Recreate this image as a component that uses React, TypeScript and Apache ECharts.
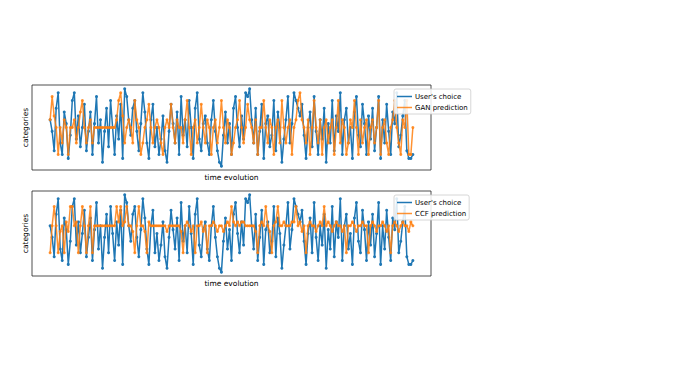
import React, { useEffect, useRef } from "react";
import * as echarts from "echarts";

const userChoice: number[] = [
  12, 9, 4, 15, 19, 6, 3, 14, 11, 2, 8, 17, 19, 7, 13, 5, 10, 16, 4, 9,
  14, 3, 11, 18, 6, 12, 1, 9, 15, 5, 17, 10, 3, 13, 7, 16, 2, 20, 18, 12,
  8, 15, 17, 9, 4, 11, 19, 14, 6, 2, 12, 16, 5, 10, 3, 7, 13, 4, 1, 9,
  16, 11, 6, 14, 3, 18, 8, 12, 5, 17, 10, 2, 15, 19, 7, 4, 11, 13, 6, 3,
  12, 17, 9, 4, 1, 0, 8, 14, 6, 11, 3, 15, 18, 10, 5, 13, 7, 19, 18, 20,
  12, 6, 15, 3, 9, 16, 2, 11, 13, 5, 8, 17, 4, 14, 10, 1, 7, 12, 18, 6,
  11, 19, 17, 15, 13, 16, 8, 2, 10, 14, 5, 18, 9, 3, 12, 7, 15, 1, 11, 6,
  17, 4, 13, 9, 19, 3, 12, 15, 6, 10, 2, 14, 18, 8, 5, 16, 11, 3, 13, 7,
  15, 4, 10, 18, 2, 12, 6, 16, 9, 3, 14, 11, 19, 5, 8, 13, 17, 4, 2, 2, 3,
];

const ganPrediction: number[] = [
  12, 18, 13, 10, 3, 10, 6, 12, 10, 3, 10, 10, 12, 6, 10, 14, 17, 10, 6, 10,
  12, 6, 10, 10, 10, 10, 10, 10, 10, 10, 10, 10, 10, 12, 17, 19, 13, 6, 10, 12,
  10, 6, 17, 12, 10, 3, 6, 10, 12, 16, 10, 6, 10, 12, 10, 6, 3, 10, 12, 10,
  16, 10, 6, 12, 10, 10, 6, 12, 17, 10, 3, 10, 12, 6, 10, 16, 10, 6, 12, 10,
  3, 10, 12, 6, 10, 17, 10, 6, 12, 10, 3, 6, 10, 12, 17, 10, 6, 10, 16, 12,
  10, 6, 12, 3, 10, 10, 17, 10, 6, 12, 10, 3, 10, 12, 6, 17, 10, 6, 10, 12,
  3, 10, 12, 17, 19, 12, 10, 6, 12, 3, 10, 17, 10, 6, 12, 3, 10, 12, 6, 10,
  12, 3, 10, 17, 6, 12, 10, 3, 6, 12, 10, 17, 10, 3, 12, 6, 10, 12, 3, 10,
  12, 6, 10, 17, 3, 10, 12, 6, 3, 10, 12, 17, 10, 6, 3, 12, 10, 17, 3, 3, 10,
];

const ccfPrediction: number[] = [
  5, 12, 17, 12, 5, 10.5, 12, 5, 13, 10.5, 17, 17, 12, 13, 5, 12, 17, 12, 5, 12,
  17, 5, 12, 12, 12, 12, 12, 12, 12, 12, 12, 12, 12, 17, 13, 17, 12, 13, 17, 12,
  12, 10.5, 5, 12, 17, 12, 12, 10.5, 5, 13, 12, 12, 12, 12, 12, 12, 12, 12, 10.5, 12,
  12, 12, 12, 12, 12, 10.5, 5, 12, 13, 12, 10.5, 12, 5, 12, 12, 13, 10.5, 12, 5, 12,
  12, 13, 12, 10.5, 12, 12, 10.5, 12, 13, 12, 17, 13, 12, 13, 12, 13, 13, 12, 12, 12,
  12, 12, 10.5, 5, 12, 13, 12, 17, 12, 10.5, 5, 12, 13, 17, 12, 12, 13, 12, 12, 12,
  13, 13, 17, 12, 13, 10.5, 12, 5, 12, 13, 12, 12, 10.5, 12, 13, 12, 17, 12, 13, 12,
  10.5, 12, 13, 12, 12, 10.5, 12, 5, 12, 12, 13, 12, 10.5, 12, 12, 13, 12, 12, 5, 12,
  13, 12, 10.5, 12, 12, 13, 12, 10.5, 12, 5, 12, 13, 12, 10.5, 12, 13, 12, 12, 10.5, 13, 12,
];

const axisTitles = { x: "time evolution", y: "categories" };
const seriesNames = ["User's choice", "GAN prediction", "CCF prediction"];

const BLUE = "#1f77b4";
const ORANGE = "#ff7f0e";
const FONT = "DejaVu Sans";

export default function App() {
  const ref = useRef<HTMLDivElement>(null);
  useEffect(() => {
    if (!ref.current) return;
    const chart = echarts.init(ref.current, null, { renderer: "svg" });
    const toXY = (arr: number[]) => arr.map((v, i) => [i, v]);
    const grids = [
      { left: 32, top: 85, width: 399, height: 85 },
      { left: 32, top: 191, width: 399, height: 85 },
    ].map((g) => ({
      ...g,
      show: true,
      borderColor: "#222",
      borderWidth: 0.8,
      backgroundColor: "transparent",
    }));
    const n = userChoice.length;
    const xAxes = [0, 1].map((i) => ({
      type: "value",
      gridIndex: i,
      min: -9,
      max: n - 1 + 9,
      axisLine: { show: false },
      axisTick: { show: false },
      axisLabel: { show: false },
      splitLine: { show: false },
      name: axisTitles.x,
      nameLocation: "middle",
      nameGap: 3,
      nameTextStyle: { fontFamily: FONT, fontSize: 7.5, color: "#000", verticalAlign: "top" },
    }));
    const yAxes = [0, 1].map((i) => ({
      type: "value",
      gridIndex: i,
      min: -1,
      max: 21,
      axisLine: { show: false },
      axisTick: { show: false },
      axisLabel: { show: false },
      splitLine: { show: false },
      name: axisTitles.y,
      nameLocation: "middle",
      nameGap: 3,
      nameRotate: 90,
      nameTextStyle: { fontFamily: FONT, fontSize: 7.5, color: "#000", verticalAlign: "bottom" },
    }));
    const mk = (name: string, data: number[], color: string, idx: number, z: number, opacity: number) => ({
      type: "line",
      name,
      xAxisIndex: idx,
      yAxisIndex: idx,
      data: toXY(data),
      symbol: "circle",
      symbolSize: 3,
      showSymbol: true,
      z,
      lineStyle: { color, width: 1.5, opacity },
      itemStyle: { color, opacity },
    });
    const legendBase = {
      orient: "vertical",
      left: 394,
      icon: "rect",
      itemWidth: 15,
      itemHeight: 1.5,
      itemGap: 4,
      padding: [4, 3, 3, 3],
      backgroundColor: "rgba(255,255,255,0.85)",
      borderColor: "#ccc",
      borderWidth: 0.8,
      borderRadius: 2,
      textStyle: { fontFamily: FONT, fontSize: 7, color: "#000", padding: [0, 0, 0, -2] },
    };
    chart.setOption({
      animation: false,
      grid: grids,
      xAxis: xAxes,
      yAxis: yAxes,
      legend: [
        {
          ...legendBase,
          top: 89,
          data: [
            { name: seriesNames[0], itemStyle: { color: BLUE } },
            { name: seriesNames[1], itemStyle: { color: ORANGE } },
          ],
        },
        {
          ...legendBase,
          top: 195,
          data: [
            { name: seriesNames[0] + " ", itemStyle: { color: BLUE } },
            { name: seriesNames[2], itemStyle: { color: ORANGE } },
          ],
        },
      ],
      series: [
        mk(seriesNames[0], userChoice, BLUE, 0, 2, 1),
        mk(seriesNames[1], ganPrediction, ORANGE, 0, 3, 0.85),
        mk(seriesNames[0] + " ", userChoice, BLUE, 1, 2, 1),
        mk(seriesNames[2], ccfPrediction, ORANGE, 1, 3, 0.85),
      ],
    });
    return () => chart.dispose();
  }, []);
  return (
    <div
      ref={ref}
      style={{ position: "fixed", left: 0, top: 0, width: 677, height: 379, background: "#fff" }}
    />
  );
}
